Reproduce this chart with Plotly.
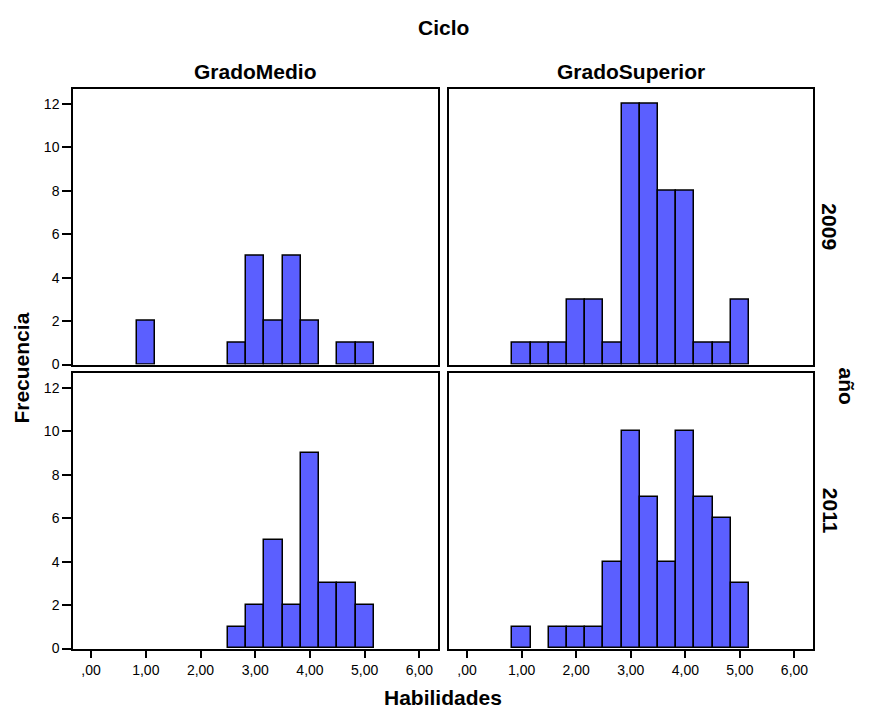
import plotly.graph_objects as go

# Histogram bins (bin width 1/3) shared by all panels
bin_centers = [1, 4/3, 5/3, 2, 7/3, 8/3, 3, 10/3, 11/3, 4, 13/3, 14/3, 5]
bin_width = 1/3

# Counts per panel (Ciclo x año)
gm_2009 = [2, 0, 0, 0, 0, 1, 5, 2, 5, 2, 0, 1, 1]
gs_2009 = [1, 1, 1, 3, 3, 1, 12, 12, 8, 8, 1, 1, 3]
gm_2011 = [0, 0, 0, 0, 0, 1, 2, 5, 2, 9, 3, 3, 2]
gs_2011 = [1, 0, 1, 1, 1, 4, 10, 7, 4, 10, 7, 6, 3]

col_labels = ["GradoMedio", "GradoSuperior"]
row_labels = ["2009", "2011"]
x_tickvals = [0, 1, 2, 3, 4, 5, 6]
x_ticktext = [",00", "1,00", "2,00", "3,00", "4,00", "5,00", "6,00"]
y_tickvals = [0, 2, 4, 6, 8, 10, 12]

W, H = 885, 709
YS = 1.013  # vertical correction factor
FONT = "Liberation Sans, Arial, sans-serif"
BAR_COLOR = "#5b5fff"

panels = [
    (gm_2009, "x", "y"),
    (gs_2009, "x2", "y2"),
    (gm_2011, "x3", "y3"),
    (gs_2011, "x4", "y4"),
]

fig = go.Figure()
for vals, xa, ya in panels:
    fig.add_trace(go.Bar(
        x=bin_centers, y=[v if v else None for v in vals], width=bin_width,
        marker=dict(color=BAR_COLOR, line=dict(color="black", width=1.5)),
        xaxis=xa, yaxis=ya, showlegend=False, hoverinfo="x+y",
    ))

def px_x(p):
    return p / W

def px_y(p):
    return 1 - p * YS / H

left_dom = [px_x(73), px_x(437.5)]
right_dom = [px_x(449), px_x(812.5)]
top_dom = [px_y(364), px_y(88.5)]
bot_dom = [px_y(647.5), px_y(372.5)]

xr = [-0.33, 6.33]
yr = [0, 12.69]

common = dict(showline=True, linecolor="black", linewidth=1.5, mirror=True,
              showgrid=False, zeroline=False, fixedrange=True)

def xax(dom, anchor, show):
    d = dict(common, domain=dom, anchor=anchor, range=xr,
             tickmode="array", tickvals=x_tickvals, ticktext=x_ticktext)
    if show:
        d.update(ticks="outside", ticklen=8, tickwidth=1.5, tickcolor="black",
                 showticklabels=True, tickfont=dict(family=FONT, size=14, color="black"))
    else:
        d.update(ticks="", showticklabels=False)
    return d

def yax(dom, anchor, show):
    d = dict(common, domain=dom, anchor=anchor, range=yr,
             tickmode="array", tickvals=y_tickvals)
    if show:
        d.update(ticks="outside", ticklen=9, tickwidth=1.5, tickcolor="black",
                 showticklabels=True, tickfont=dict(family=FONT, size=14, color="black"))
    else:
        d.update(ticks="", showticklabels=False)
    return d

fig.update_layout(
    width=W, height=H,
    margin=dict(l=0, r=0, t=0, b=0),
    paper_bgcolor="white", plot_bgcolor="white",
    bargap=0,
    font=dict(family=FONT, color="black"),
    xaxis=xax(left_dom, "y", False),
    yaxis=yax(top_dom, "x", True),
    xaxis2=xax(right_dom, "y2", False),
    yaxis2=yax(top_dom, "x2", False),
    xaxis3=xax(left_dom, "y3", True),
    yaxis3=yax(bot_dom, "x3", True),
    xaxis4=xax(right_dom, "y4", True),
    yaxis4=yax(bot_dom, "x4", False),
)

def ann(text, x, y, angle=0, size=21):
    fig.add_annotation(text="<b>%s</b>" % text, x=px_x(x), y=px_y(y),
                       xref="paper", yref="paper", showarrow=False,
                       textangle=angle, xanchor="center", yanchor="middle",
                       font=dict(family=FONT, size=size, color="black"))

ann("Ciclo", 443, 27)
ann(col_labels[0], 255.5, 71)
ann(col_labels[1], 631, 71)
ann(row_labels[0], 830, 226, 90)
ann(row_labels[1], 830, 510, 90)
ann("año", 846, 385, 90)
ann("Frecuencia", 22, 368, -90)
ann("Habilidades", 443, 696)

fig.write_html("out.html", config={"displayModeBar": False},
               post_script="document.body.style.margin='0';document.body.style.overflow='hidden';")
